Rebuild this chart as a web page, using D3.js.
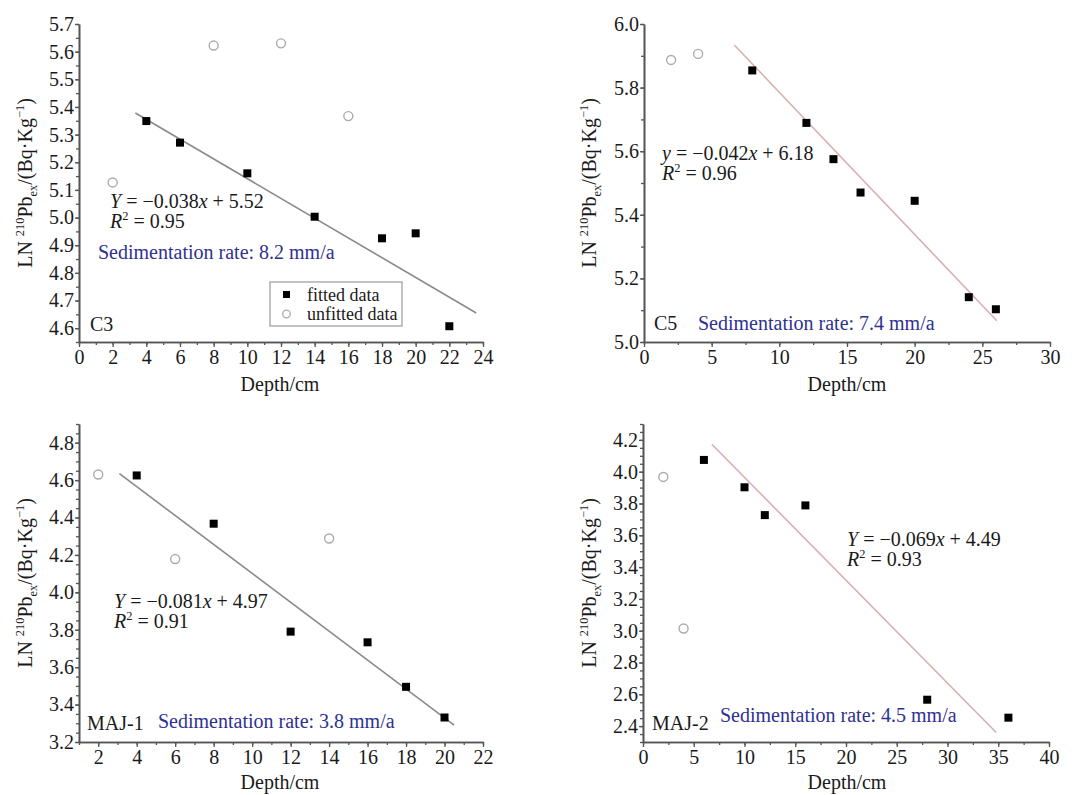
<!DOCTYPE html>
<html>
<head>
<meta charset="utf-8">
<script src="https://cdn.jsdelivr.net/npm/d3@7"></script>
<style>
  body { margin: 0; background: #fff; }
  text { font-family: "Liberation Serif", "Times New Roman", serif; fill: #1a1a1a; }
  .domain { stroke: #555; stroke-width: 1.6; }
  .tick line { stroke: #555; stroke-width: 1.3; }
</style>
</head>
<body>
<div class="canvas"></div>
<script>
// ---- data ----
// C3
const c3FittedDepth = [4, 6, 10, 14, 18, 20, 22];
const c3FittedLn = [5.349, 5.271, 5.16, 5.003, 4.925, 4.943, 4.607];
const c3UnfittedDepth = [2, 8, 12, 16];
const c3UnfittedLn = [5.127, 5.622, 5.63, 5.367];
const c3LineDepth = [3.35, 23.6];
const c3LineLn = [5.378, 4.655];
const c3XTicks = [0, 2, 4, 6, 8, 10, 12, 14, 16, 18, 20, 22, 24];
const c3YTicks = [4.6, 4.7, 4.8, 4.9, 5.0, 5.1, 5.2, 5.3, 5.4, 5.5, 5.6, 5.7];

// C5
const c5FittedDepth = [8, 12, 14, 16, 20, 24, 26];
const c5FittedLn = [5.854, 5.689, 5.575, 5.47, 5.444, 5.141, 5.103];
const c5UnfittedDepth = [2, 4];
const c5UnfittedLn = [5.887, 5.906];
const c5LineDepth = [6.67, 26.07];
const c5LineLn = [5.934, 5.067];
const c5XTicks = [0, 5, 10, 15, 20, 25, 30];
const c5YTicks = [5.0, 5.2, 5.4, 5.6, 5.8, 6.0];

// MAJ-1
const maj1FittedDepth = [4, 8, 12, 16, 18, 20];
const maj1FittedLn = [4.625, 4.367, 3.79, 3.733, 3.495, 3.331];
const maj1UnfittedDepth = [2, 6, 14];
const maj1UnfittedLn = [4.63, 4.178, 4.288];
const maj1LineDepth = [3.1, 20.5];
const maj1LineLn = [4.635, 3.29];
const maj1XTicks = [2, 4, 6, 8, 10, 12, 14, 16, 18, 20, 22];
const maj1YTicks = [3.2, 3.4, 3.6, 3.8, 4.0, 4.2, 4.4, 4.6, 4.8];

// MAJ-2
const maj2FittedDepth = [6, 10, 12, 16, 28, 36];
const maj2FittedLn = [4.074, 3.902, 3.727, 3.788, 2.566, 2.453];
const maj2UnfittedDepth = [2, 4];
const maj2UnfittedLn = [3.967, 3.014];
const maj2LineDepth = [6.78, 34.8];
const maj2LineLn = [4.173, 2.36];
const maj2XTicks = [0, 5, 10, 15, 20, 25, 30, 35, 40];
const maj2YTicks = [2.4, 2.6, 2.8, 3.0, 3.2, 3.4, 3.6, 3.8, 4.0, 4.2];

const equations = {
  C3: ["Y", "−0.038", "5.52", "0.95"],
  C5: ["y", "−0.042", "6.18", "0.96"],
  "MAJ-1": ["Y", "−0.081", "4.97", "0.91"],
  "MAJ-2": ["Y", "−0.069", "4.49", "0.93"]
};
const rates = { C3: "8.2", C5: "7.4", "MAJ-1": "3.8", "MAJ-2": "4.5" };

// ---- layout ----
const width = 1076;
const height = 795;
const fs = 20;
const blue = "#2e3192";

const panels = [
  {
    name: "C3", fx: c3FittedDepth, fy: c3FittedLn, ux: c3UnfittedDepth, uy: c3UnfittedLn,
    lx: c3LineDepth, ly: c3LineLn, xTicks: c3XTicks, yTicks: c3YTicks,
    xDomain: [0, 24], yDomain: [4.55, 5.7], xMinor: 1, yMinor: 0.05,
    left: 79, right: 483, top: 24, bottom: 342, lineColor: "#8a8a8a",
    eq: [110, 208], rate: [98, 259], label: [90, 331], rateColor: blue,
    yLabel: [32, 183], xLabel: [280, 391], legend: true
  },
  {
    name: "C5", fx: c5FittedDepth, fy: c5FittedLn, ux: c5UnfittedDepth, uy: c5UnfittedLn,
    lx: c5LineDepth, ly: c5LineLn, xTicks: c5XTicks, yTicks: c5YTicks,
    xDomain: [0, 30], yDomain: [5.0, 6.0], xMinor: 2.5, yMinor: 0.1,
    left: 644, right: 1050, top: 24, bottom: 342, lineColor: "#d8b0b0",
    eq: [662, 160], rate: [698, 330], label: [654, 330], rateColor: blue,
    yLabel: [596, 183], xLabel: [847, 391], legend: false
  },
  {
    name: "MAJ-1", fx: maj1FittedDepth, fy: maj1FittedLn, ux: maj1UnfittedDepth, uy: maj1UnfittedLn,
    lx: maj1LineDepth, ly: maj1LineLn, xTicks: maj1XTicks, yTicks: maj1YTicks,
    xDomain: [1, 22], yDomain: [3.2, 4.9], xMinor: 1, yMinor: 0.05,
    left: 79, right: 483, top: 424, bottom: 742, lineColor: "#8a8a8a",
    eq: [114, 608], rate: [158, 728], label: [87, 730], rateColor: blue,
    yLabel: [32, 583], xLabel: [280, 789], legend: false
  },
  {
    name: "MAJ-2", fx: maj2FittedDepth, fy: maj2FittedLn, ux: maj2UnfittedDepth, uy: maj2UnfittedLn,
    lx: maj2LineDepth, ly: maj2LineLn, xTicks: maj2XTicks, yTicks: maj2YTicks,
    xDomain: [0, 40], yDomain: [2.3, 4.3], xMinor: 2.5, yMinor: 0.05,
    left: 643, right: 1049, top: 424, bottom: 742, lineColor: "#d8b0b0",
    eq: [847, 546], rate: [720, 722], label: [652, 730], rateColor: blue,
    yLabel: [596, 583], xLabel: [847, 789], legend: false
  }
];

const svg = d3
  .select(".canvas")
  .append("svg")
  .attr("width", width)
  .attr("height", height);

// writes a run of text pieces with italics / super / subscripts
const richText = (sel, parts, size) => {
  let shift = 0;
  parts.forEach(p => {
    let target = 0;
    if (p.sup) target = -0.42 * size;
    if (p.sub) target = 0.25 * size;
    sel
      .append("tspan")
      .attr("dy", target - shift)
      .attr("font-size", p.sup || p.sub ? size * 0.62 : size)
      .attr("font-style", p.i ? "italic" : "normal")
      .text(p.t);
    shift = target;
  });
};

const minorTicks = (domain, step) =>
  d3.range(Math.ceil(domain[0] / step - 1e-9) * step, domain[1] + 1e-9, step);

panels.forEach(p => {
  const x = d3.scaleLinear().domain(p.xDomain).range([p.left, p.right]);
  const y = d3.scaleLinear().domain(p.yDomain).range([p.bottom, p.top]);
  const g = svg.append("g");

  // minor ticks first, then the main axes on top
  g.append("g")
    .attr("transform", `translate(0, ${p.bottom})`)
    .call(d3.axisBottom(x).tickValues(minorTicks(p.xDomain, p.xMinor)).tickSize(3).tickSizeOuter(0).tickFormat(""));
  g.append("g")
    .attr("transform", `translate(${p.left}, 0)`)
    .call(d3.axisLeft(y).tickValues(minorTicks(p.yDomain, p.yMinor)).tickSize(3).tickSizeOuter(0).tickFormat(""));

  const xAxis = g.append("g")
    .attr("transform", `translate(0, ${p.bottom})`)
    .call(d3.axisBottom(x).tickValues(p.xTicks).tickSize(5).tickSizeOuter(0).tickPadding(3));
  const yAxis = g.append("g")
    .attr("transform", `translate(${p.left}, 0)`)
    .call(d3.axisLeft(y).tickValues(p.yTicks).tickSize(4).tickSizeOuter(0).tickPadding(1).tickFormat(d3.format(".1f")));

  [xAxis, yAxis].forEach(a => {
    a.selectAll("text").attr("font-size", fs).attr("fill", "#1a1a1a")
      .style("font-family", '"Liberation Serif", serif');
  });

  // fit line
  g.append("line")
    .attr("x1", x(p.lx[0])).attr("y1", y(p.ly[0]))
    .attr("x2", x(p.lx[1])).attr("y2", y(p.ly[1]))
    .attr("stroke", p.lineColor)
    .attr("stroke-width", 1.6);

  // unfitted points
  g.selectAll(".unfit")
    .data(p.ux.map((d, i) => [d, p.uy[i]]))
    .enter()
    .append("circle")
    .attr("cx", d => x(d[0]))
    .attr("cy", d => y(d[1]))
    .attr("r", 4.5)
    .attr("fill", "#fff")
    .attr("stroke", "#ababab")
    .attr("stroke-width", 1.4);

  // fitted points
  g.selectAll(".fit")
    .data(p.fx.map((d, i) => [d, p.fy[i]]))
    .enter()
    .append("rect")
    .attr("x", d => x(d[0]) - 4)
    .attr("y", d => y(d[1]) - 4)
    .attr("width", 8)
    .attr("height", 8)
    .attr("fill", "#000");

  // equation
  const e = equations[p.name];
  richText(
    g.append("text").attr("x", p.eq[0]).attr("y", p.eq[1]),
    [{ t: e[0], i: true }, { t: " = " + e[1] }, { t: "x", i: true }, { t: " + " + e[2] }],
    fs
  );
  richText(
    g.append("text").attr("x", p.eq[0]).attr("y", p.eq[1] + 20),
    [{ t: "R", i: true }, { t: "2", sup: true }, { t: " = " + e[3] }],
    fs
  );

  g.append("text")
    .attr("x", p.rate[0]).attr("y", p.rate[1])
    .attr("font-size", fs)
    .style("fill", p.rateColor)
    .text(`Sedimentation rate: ${rates[p.name]} mm/a`);

  g.append("text")
    .attr("x", p.label[0]).attr("y", p.label[1])
    .attr("font-size", fs)
    .text(p.name);

  // axis titles
  g.append("text")
    .attr("x", p.xLabel[0]).attr("y", p.xLabel[1])
    .attr("font-size", fs)
    .attr("text-anchor", "middle")
    .text("Depth/cm");

  richText(
    g.append("text")
      .attr("transform", `translate(${p.yLabel[0]}, ${p.yLabel[1]}) rotate(-90)`)
      .attr("text-anchor", "middle"),
    [
      { t: "LN " }, { t: "210", sup: true }, { t: "Pb" }, { t: "ex", sub: true },
      { t: "/(Bq·Kg" }, { t: "−1", sup: true }, { t: ")" }
    ],
    fs
  );

  if (p.legend) {
    const lg = g.append("g").attr("transform", "translate(270, 282)");
    lg.append("rect")
      .attr("width", 132).attr("height", 44)
      .attr("fill", "#fff").attr("stroke", "#999").attr("stroke-width", 1.2);
    lg.append("rect").attr("x", 13).attr("y", 9).attr("width", 7).attr("height", 7).attr("fill", "#000");
    lg.append("circle").attr("cx", 16.5).attr("cy", 32).attr("r", 3.8)
      .attr("fill", "#fff").attr("stroke", "#ababab").attr("stroke-width", 1.3);
    lg.append("text").attr("x", 37).attr("y", 19).attr("font-size", 18).text("fitted data");
    lg.append("text").attr("x", 37).attr("y", 38).attr("font-size", 18).text("unfitted data");
  }
});
</script>
</body>
</html>
